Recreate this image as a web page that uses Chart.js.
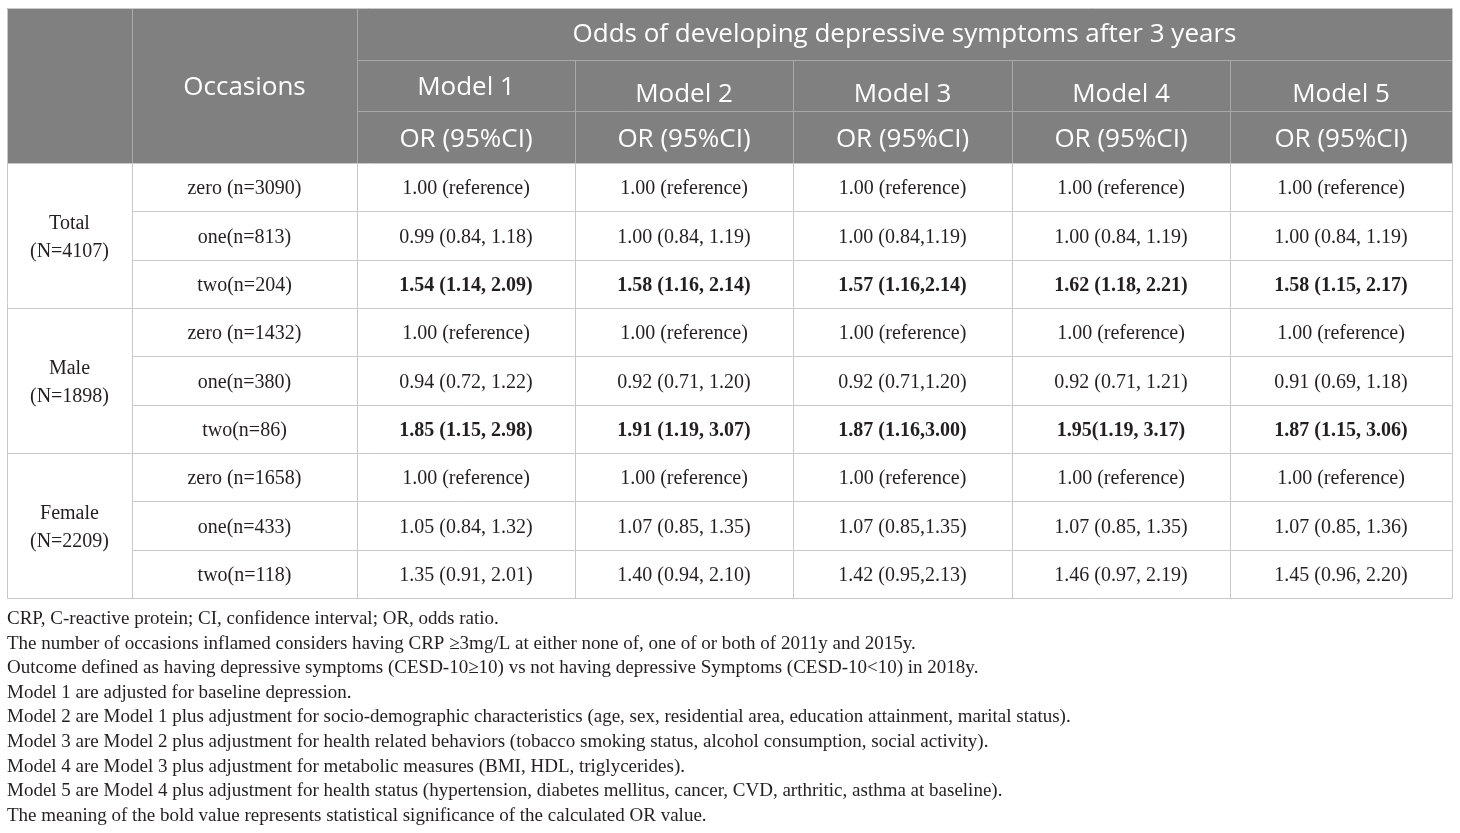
<!DOCTYPE html>
<html>
<head>
<meta charset="utf-8">
<script src="https://cdn.jsdelivr.net/npm/chart.js@4"></script>
<style>
  body { margin: 0; background: #fff; }
  canvas { display: block; }
</style>
</head>
<body>
<canvas id="table" width="1460" height="833"></canvas>
<script>
// table contents
const title = 'Odds of developing depressive symptoms after 3 years';
const occasionsHead = 'Occasions';
const models = ['Model 1', 'Model 2', 'Model 3', 'Model 4', 'Model 5'];
const statHead = 'OR (95%CI)';
const groups = [['Total', '(N=4107)'], ['Male', '(N=1898)'], ['Female', '(N=2209)']];
const occasions = ['zero (n=3090)', 'one(n=813)', 'two(n=204)',
                   'zero (n=1432)', 'one(n=380)', 'two(n=86)',
                   'zero (n=1658)', 'one(n=433)', 'two(n=118)'];
const model1 = ['1.00 (reference)', '0.99 (0.84, 1.18)', '1.54 (1.14, 2.09)',
                '1.00 (reference)', '0.94 (0.72, 1.22)', '1.85 (1.15, 2.98)',
                '1.00 (reference)', '1.05 (0.84, 1.32)', '1.35 (0.91, 2.01)'];
const model2 = ['1.00 (reference)', '1.00 (0.84, 1.19)', '1.58 (1.16, 2.14)',
                '1.00 (reference)', '0.92 (0.71, 1.20)', '1.91 (1.19, 3.07)',
                '1.00 (reference)', '1.07 (0.85, 1.35)', '1.40 (0.94, 2.10)'];
const model3 = ['1.00 (reference)', '1.00 (0.84,1.19)', '1.57 (1.16,2.14)',
                '1.00 (reference)', '0.92 (0.71,1.20)', '1.87 (1.16,3.00)',
                '1.00 (reference)', '1.07 (0.85,1.35)', '1.42 (0.95,2.13)'];
const model4 = ['1.00 (reference)', '1.00 (0.84, 1.19)', '1.62 (1.18, 2.21)',
                '1.00 (reference)', '0.92 (0.71, 1.21)', '1.95(1.19, 3.17)',
                '1.00 (reference)', '1.07 (0.85, 1.35)', '1.46 (0.97, 2.19)'];
const model5 = ['1.00 (reference)', '1.00 (0.84, 1.19)', '1.58 (1.15, 2.17)',
                '1.00 (reference)', '0.91 (0.69, 1.18)', '1.87 (1.15, 3.06)',
                '1.00 (reference)', '1.07 (0.85, 1.36)', '1.45 (0.96, 2.20)'];
const boldRows = [2, 5]; // significant results
const footnotes = [
  'CRP, C-reactive protein; CI, confidence interval; OR, odds ratio.',
  'The number of occasions inflamed considers having CRP \u22653mg/L at either none of, one of or both of 2011y and 2015y.',
  'Outcome defined as having depressive symptoms (CESD-10\u226510) vs not having depressive Symptoms (CESD-10<10) in 2018y.',
  'Model 1 are adjusted for baseline depression.',
  'Model 2 are Model 1 plus adjustment for socio-demographic characteristics (age, sex, residential area, education attainment, marital status).',
  'Model 3 are Model 2 plus adjustment for health related behaviors (tobacco smoking status, alcohol consumption, social activity).',
  'Model 4 are Model 3 plus adjustment for metabolic measures (BMI, HDL, triglycerides).',
  'Model 5 are Model 4 plus adjustment for health status (hypertension, diabetes mellitus, cancer, CVD, arthritic, asthma at baseline).',
  'The meaning of the bold value represents statistical significance of the calculated OR value.'
];

// layout (scale units)
const colEdges = [0, 125, 350, 568, 786, 1005, 1223, 1445];
const headEdges = [0, 52, 103, 155];
const bodyRowH = 48.33;
const tableH = 155 + 9 * bodyRowH;
const modelLabelY = [80, 87, 87, 87, 87];

const HEAD_FONT = '26px "Open Sans"';
const BODY_FONT = '20px "Liberation Serif"';
const BOLD_FONT = 'bold 20px "Liberation Serif"';
const NOTE_FONT = '19px "Liberation Serif"';

const tablePlugin = {
  id: 'tablePlugin',
  afterDraw(chart) {
    const ctx = chart.ctx;
    const xs = chart.scales.x, ys = chart.scales.y;
    const X = v => xs.getPixelForValue(v);
    const Y = v => ys.getPixelForValue(v);
    const cols = [model1, model2, model3, model4, model5];

    function text(str, x, y, font, color) {
      ctx.font = font;
      ctx.fillStyle = color;
      ctx.textAlign = 'center';
      ctx.textBaseline = 'middle';
      ctx.fillText(str, x, y);
    }
    function line(x0, y0, x1, y1, color) {
      ctx.strokeStyle = color;
      ctx.lineWidth = 1;
      ctx.beginPath();
      ctx.moveTo(Math.round(x0) + 0.5, Math.round(y0) + 0.5);
      ctx.lineTo(Math.round(x1) + 0.5, Math.round(y1) + 0.5);
      ctx.stroke();
    }
    const mid = i => (X(colEdges[i]) + X(colEdges[i + 1])) / 2;

    ctx.save();
    // header block
    ctx.fillStyle = '#808080';
    ctx.fillRect(X(0), Y(0), X(colEdges[7]) - X(0), Y(headEdges[3]) - Y(0));
    const hl = '#a9a9a9';
    line(X(colEdges[1]), Y(0), X(colEdges[1]), Y(headEdges[3]), hl);
    line(X(colEdges[2]), Y(0), X(colEdges[2]), Y(headEdges[3]), hl);
    for (let i = 3; i < 7; i++) line(X(colEdges[i]), Y(headEdges[1]), X(colEdges[i]), Y(headEdges[3]), hl);
    line(X(colEdges[2]), Y(headEdges[1]), X(colEdges[7]), Y(headEdges[1]), hl);
    line(X(colEdges[2]), Y(headEdges[2]), X(colEdges[7]), Y(headEdges[2]), hl);

    text(occasionsHead, mid(1), Y(80), HEAD_FONT, '#fff');
    text(title, (X(colEdges[2]) + X(colEdges[7])) / 2, Y(27), HEAD_FONT, '#fff');
    models.forEach((m, i) => {
      text(m, mid(i + 2), Y(modelLabelY[i]), HEAD_FONT, '#fff');
      text(statHead, mid(i + 2), Y((headEdges[2] + headEdges[3]) / 2 + 3), HEAD_FONT, '#fff');
    });

    // body grid
    const bl = '#c9c9c9';
    for (let r = 1; r < 9; r++) {
      const y = headEdges[3] + r * bodyRowH;
      line(X(r % 3 === 0 ? 0 : colEdges[1]), Y(y), X(colEdges[7]), Y(y), bl);
    }
    for (let i = 1; i < 7; i++) line(X(colEdges[i]), Y(headEdges[3]), X(colEdges[i]), Y(tableH), bl);
    line(X(0), Y(headEdges[3]), X(colEdges[7]), Y(headEdges[3]), bl);
    // outer border
    line(X(0), Y(0), X(colEdges[7]), Y(0), bl);
    line(X(0), Y(tableH), X(colEdges[7]), Y(tableH), bl);
    line(X(0), Y(0), X(0), Y(tableH), bl);
    line(X(colEdges[7]), Y(0), X(colEdges[7]), Y(tableH), bl);

    // body text
    const ink = '#231f20';
    groups.forEach((g, k) => {
      const c = headEdges[3] + (k * 3 + 1.5) * bodyRowH;
      text(g[0], mid(0), Y(c - 12), BODY_FONT, ink);
      text(g[1], mid(0), Y(c + 16), BODY_FONT, ink);
    });
    occasions.forEach((o, r) => {
      const cy = Y(headEdges[3] + (r + 0.5) * bodyRowH + 2);
      text(o, mid(1), cy, BODY_FONT, ink);
      const f = boldRows.includes(r) ? BOLD_FONT : BODY_FONT;
      cols.forEach((col, i) => text(col[r], mid(i + 2), cy, f, ink));
    });

    // footnotes under the table
    ctx.font = NOTE_FONT;
    ctx.fillStyle = ink;
    ctx.textAlign = 'left';
    ctx.textBaseline = 'middle';
    footnotes.forEach((n, i) => ctx.fillText(n, X(0), Y(tableH) + 21 + i * 24.6));
    ctx.restore();
  }
};

new Chart(document.getElementById('table').getContext('2d'), {
  type: 'scatter',
  data: { datasets: [{ data: [] }] },
  options: {
    responsive: false,
    animation: false,
    devicePixelRatio: 1,
    layout: { padding: { left: 7, top: 8, right: 8, bottom: 235 } },
    plugins: { legend: { display: false }, tooltip: { enabled: false } },
    scales: {
      x: { type: 'linear', min: 0, max: colEdges[7], display: false },
      y: { type: 'linear', min: 0, max: tableH, reverse: true, display: false }
    }
  },
  plugins: [tablePlugin]
});
</script>
</body>
</html>
